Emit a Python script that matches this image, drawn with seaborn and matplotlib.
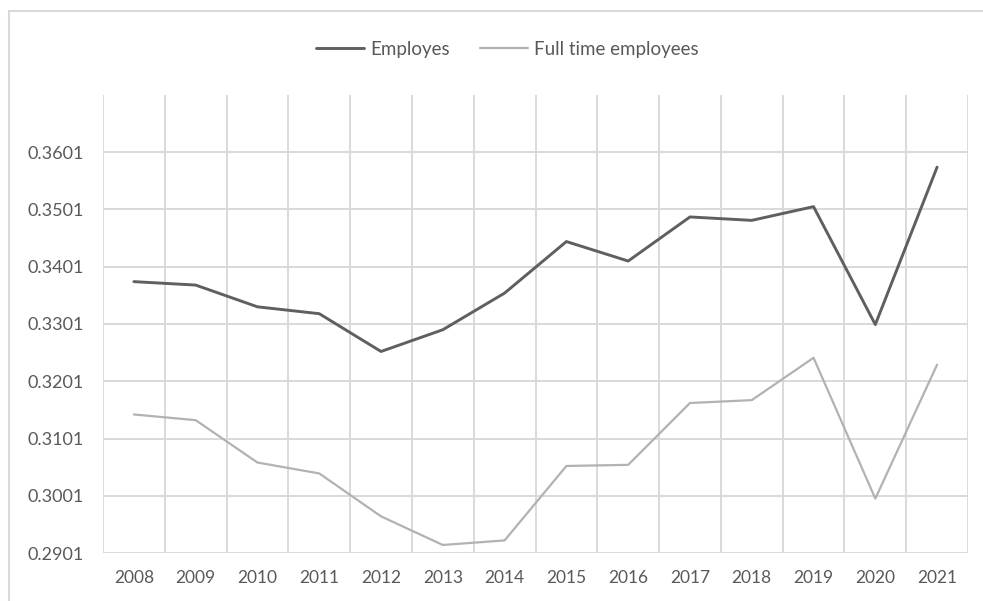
import pandas as pd
import matplotlib.pyplot as plt
import seaborn as sns
from matplotlib.patches import Rectangle

#-------------------------------------------------------
years=[2008, 2009, 2010, 2011, 2012, 2013, 2014, 2015, 2016, 2017, 2018, 2019, 2020, 2021]
employes=[0.3375, 0.3369, 0.3331, 0.3319, 0.3253, 0.3291, 0.3355, 0.3445, 0.3411, 0.3488, 0.3482, 0.3506, 0.3300, 0.3575]
full_time=[0.3143, 0.3133, 0.3059, 0.3040, 0.2965, 0.2915, 0.2923, 0.3053, 0.3055, 0.3163, 0.3168, 0.3242, 0.2996, 0.3230]
l_series=['Employes', 'Full time employees']
y_ticks=[0.2901, 0.3001, 0.3101, 0.3201, 0.3301, 0.3401, 0.3501, 0.3601]
y_top=0.3701

d_color={'Employes': '#5f5f5f', 'Full time employees': '#b2b2b2'}
d_lw={'Employes': 2.1, 'Full time employees': 1.6}
c_grid='#d9d9d9'
c_text='#595959'

#-------------------------------------------------------
df=pd.DataFrame({'year': years*2,
	'value': employes+full_time,
	'series': [l_series[0]]*len(years)+[l_series[1]]*len(years)})

sns.set_theme(style='white')
plt.rcParams['font.family']=['Lato', 'DejaVu Sans']

fig=plt.figure(figsize=(9.83, 6.01), dpi=100)
ax=fig.add_axes([103/983, 1-553/601, (968-103)/983, (553-95)/601])

#outer chart frame (runs off the right and bottom edges)
fig.patches.append(Rectangle((9/983, -0.2), 1.2, 1.2-11/601, transform=fig.transFigure,
	fill=False, edgecolor=c_grid, lw=1.5, zorder=0))

#grid
for y in y_ticks:
	ax.axhline(y, color=c_grid, lw=1.4, zorder=0)
for x in range(len(years)+1):
	ax.axvline(years[0]-0.5+x, color=c_grid, lw=1.4, zorder=0)

#lines
for s in l_series:
	sns.lineplot(data=df[df['series']==s], x='year', y='value', color=d_color[s],
		lw=d_lw[s], label=s, ax=ax, zorder=3)

#adjust
ax.set_xlim(years[0]-0.5, years[-1]+0.5)
ax.set_ylim(y_ticks[0], y_top)
ax.set_xticks(years)
ax.set_xticklabels([str(y) for y in years])
ax.set_yticks(y_ticks)
ax.set_yticklabels([f'{y:.4f}' for y in y_ticks])
ax.tick_params(axis='x', length=0, pad=12, labelsize=12.5, labelcolor=c_text)
ax.tick_params(axis='y', length=0, pad=14, labelsize=13, labelcolor=c_text)
ax.xaxis.label.set_visible(False)
ax.yaxis.label.set_visible(False)
for sp in ax.spines.values():
	sp.set_visible(False)

#legend
ax.get_legend().remove()
h, l=ax.get_legend_handles_labels()
fig.legend(h, l, loc='center', bbox_to_anchor=(507/983, 1-49/601), ncol=2, frameon=False,
	fontsize=13.5, labelcolor=c_text, handlelength=2.6, handletextpad=0.3, columnspacing=1.6)

#save
plt.savefig('out.png', dpi=100)
plt.close()
